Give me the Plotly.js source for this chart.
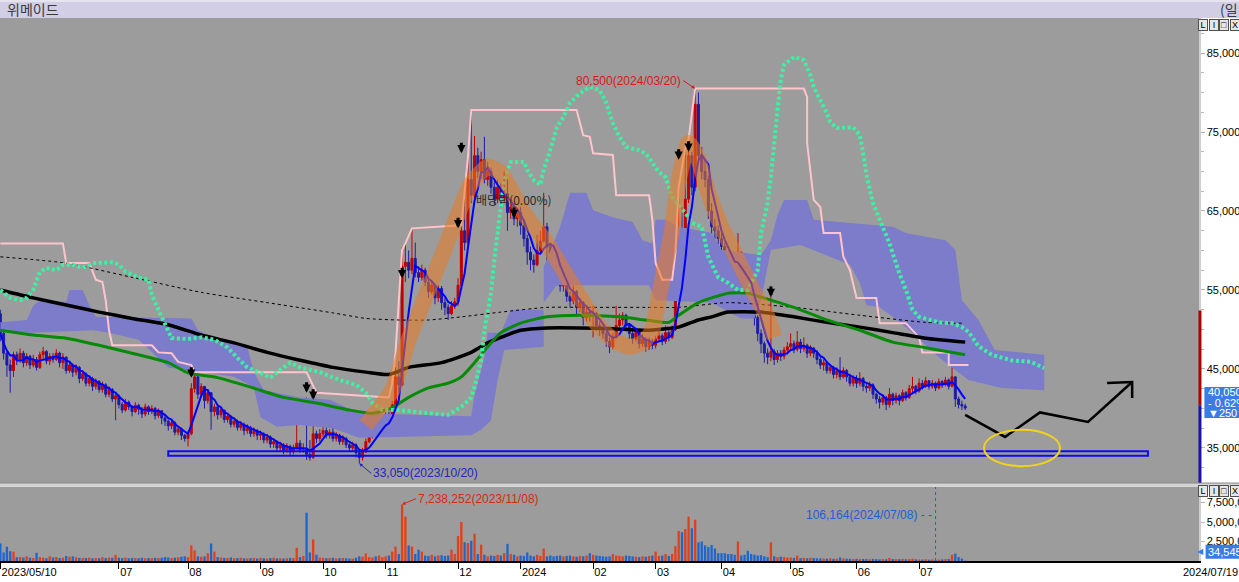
<!DOCTYPE html>
<html><head><meta charset="utf-8">
<script src="https://cdn.plot.ly/plotly-3.0.1.min.js"></script>
<style>html,body{margin:0;padding:0;background:#fff;overflow:hidden}#chart{width:1239px;height:582px}</style>
</head><body><div id="chart"></div>
<script>
// x = trading-day index (0 = 2023/05/10 ... 293 = 2024/07/19); prices in hundreds of KRW
const stockName = "위메이드";
const firstOpenH = 520;
const closeH = [
 495,470,455,448,468,462,470,458,466,455, 462,452,468,472,460,466,462,470,458,465,
 448,455,446,452,438,444,432,438,428,434, 424,430,418,424,412,416,
 405,398,408,402,396,404,399,393,402,396, 400,391,397,388,384,378,382,370,374,366,362,
 368,425,440,418,428,410,420,396,402,392, 398,386,390,380,384,376,380,372,376,368,372,366,
 368,360,364,355,358,350,354,347,352,345,350, 356,348,350,342,338,368,362,368,
 372,366,370,362,366,358,362,354,350,354, 344,338,345,358,366,372,368,378,382,
 392,386,405,440,430,580,585,575,590,572, 566,575,560,548,556,540,552,534,528,520,530,535,
 556,625,610,690,670,720,700,715,690,700, 680,665,680,665,672,648,655,640,648,
 632,615,598,588,582,600,612,630,605,595, 585,565,555,560,542,536,548,528,534,515,522,518,
 520,505,500,495,485,478,490,505,512,518, 505,495,488,498,482,488,478,485,480,
 488,492,485,496,490,500,565,610,600,665, 720,680,785,720,700,690,650,630,625,615,
 605,592,585,578,570,598,565,552,545,538, 515,495,482,470,465,472,462,470,466,474,478,
 482,475,484,476,480,470,476,470,462,455, 458,448,452,443,448,440,448,440,432,438,
 432,438,428,426,430,418,412,408,414,405, 418,410,416,410,420,414,425,428,422,
 432,428,435,428,432,426,434,430,436,428, 440,412,405,403,400.5];
const highH = [
 525,500,472,462,472,472,476,473,470,468, 468,465,472,478,474,470,470,475,472,470,
 466,460,457,456,454,448,446,442,440,438, 436,434,432,428,426,420,
 418,408,412,410,404,408,406,402,406,404, 404,402,400,398,392,386,386,384,378,376,368,
 372,432,446,445,432,428,424,420,406,404, 402,398,394,392,388,386,384,382,380,378,376,374,
 372,370,368,366,362,360,358,356,356,354,354, 395,360,356,414,360,404,372,374,
 380,376,374,376,370,368,366,364,358,358, 356,348,350,362,372,376,376,382,386,
 398,396,410,452,460,604,609,600,628,610, 580,582,578,565,562,558,556,555,540,532,536,540,
 565,632,680,718,778,745,730,725,744,712, 705,688,690,685,700,690,662,660,652,
 655,638,620,605,595,620,625,673,635,610, 600,590,570,566,562,548,556,550,540,536,528,526,
 530,522,510,504,498,490,496,530,520,522, 520,508,500,502,500,494,490,490,488,
 492,498,495,505,500,505,597,680,655,730, 741,725,805,800,731,715,695,660,640,632,
 622,610,598,592,585,622,598,570,560,550, 540,518,500,485,476,555,475,474,474,478,484,
 495,486,498,488,490,482,480,478,474,466, 462,460,456,454,452,465,452,450,444,442,
 442,446,440,432,434,432,420,416,418,416, 426,420,420,418,424,422,430,440,430,
 438,436,440,436,436,434,438,436,440,438, 452,440,415,410,406];
const lowH = [
 485,462,440,420,440,455,458,452,454,450, 452,448,450,462,456,455,458,460,452,450,
 444,445,440,442,432,435,428,428,422,424, 420,420,414,414,408,385,
 400,394,396,398,390,394,392,388,390,392, 393,386,388,380,378,372,374,366,366,360,358,
 352,366,420,412,415,400,406,373,390,386, 388,382,382,376,376,372,372,366,368,364,364,360,
 360,356,356,350,350,345,346,342,344,340,342, 348,344,344,335,334,336,356,358,
 364,362,362,358,358,354,354,350,345,346, 338,330.5,334,344,356,362,364,366,374,
 380,382,384,402,420,428,560,565,570,566, 560,562,555,540,545,532,535,525,518,512,518,526,
 530,552,600,605,660,665,692,690,685,682, 672,658,660,655,660,625,640,632,630,
 620,605,582,575,572,580,596,610,566,585, 578,556,548,548,535,528,532,518,522,505,510,510,
 490,498,492,488,478,470,475,488,500,505, 498,488,482,485,476,478,472,474,475,
 476,484,480,482,485,488,498,560,585,598, 660,670,675,715,690,680,640,620,615,608,
 598,585,575,570,562,566,558,545,538,530, 505,485,470,458,456,460,455,458,460,462,468,
 474,470,472,470,472,464,466,464,456,450, 448,444,444,438,438,436,438,434,428,428,
 426,428,422,420,422,412,406,400,404,398, 401,404,406,404,408,410,412,418,418,
 420,424,426,424,425,422,424,426,428,424, 427,402,400,398,398];
// volume in thousands of shares
const volumeK = [
 2240,1100,1840,1250,1200,480,520,450,600,430, 380,1050,500,420,350,600,450,520,380,420,
 650,550,600,480,400,390,380,420,350,380, 360,500,380,440,420,790,
 420,380,450,350,400,380,360,420,340,380, 360,400,380,420,500,450,380,420,480,550,600,
 500,2000,1360,600,550,600,1000,2240,1200,500, 450,400,380,450,350,380,420,350,330,360,400,320,
 400,350,300,380,420,330,360,320,350,400, 380,1700,500,650,6200,1100,2770,800,450,
 400,350,380,420,330,360,380,350,320,300, 420,600,550,970,500,450,600,700,500,
 600,700,1200,1840,900,7238.252,5700,2000,1850,900, 1450,1200,700,650,800,600,700,750,650,700,1450,900,
 3200,5000,2400,2300,2600,3500,900,2100,800,600, 700,650,800,700,1000,2200,900,800,600,
 700,650,1100,700,600,800,650,1600,600,700, 600,650,700,600,650,700,600,550,650,600,700,1000,
 800,700,650,600,550,600,900,700,650,600, 700,650,600,550,500,600,550,650,700,
 1200,650,700,900,650,900,1900,3860,3700,4100, 5700,4200,5300,2400,2500,2000,1800,2050,1600,1000,
 1000,1000,900,900,800,2500,700,800,1300,900, 800,700,750,600,500,2400,600,500,550,500,450,
 450,400,700,380,400,350,420,380,350,330, 320,300,350,280,300,450,320,300,280,260,
 280,250,260,240,230,260,250,220,240,230, 400,250,260,240,280,230,250,300,220,
 200,180,220,170,190,106.164,180,200,250,260, 800,950,500,300,34.545];

const monthTickIdx  = [0,36,57,79,98,117,139,158,180,199,219,240,260,279];
const monthTickText = ["2023/05/10","07","08","09","10","11","12","2024","02","03","04","05","06","07"];
const lastDateText = "2024/07/19";

// long moving averages
const greenMaI = [0,10,20,30,40,51,57,66,76,86,96,106,113,119,124,130,136,140,144,148,152,158,166,176,188,196,203,206,212,216,221,227,231,241,251,261,271,281,293];
const greenMaP = [499,493,489,480,470,458,445,439,427,414,407,398,394,401,414,426,432,440,458,478,496,508,516,518,516,512,509,518,534,540,546,546,541,528,512,499,484,477,468];
const blackMaI = [0,10,20,30,40,51,61,71,81,91,101,111,118,124,134,143,148,152,158,166,176,186,196,202,206,212,216,221,231,241,251,261,271,281,293];
const blackMaP = [550,540,531,522,514,506,493,483,471,461,452,446,443,452,458,471,483,490,499,502,502,501,499,501,503,512,516,522,522,516,509,503,496,489,484];
const dashMaI = [0,20,40,61,81,101,111,121,130,140,152,166,176,196,206,221,241,261,281,292];
const dashMaP = [592,584,566,547,534,521,514,512,512,516,522,528,528,528,528,534,528,518,509,508];
// highest-high (pink) line
const pinkI = [0,19,20,27,29,31,32,33,34,46,48,52,54,58,59,93,96,118,119,120,122,123,125,140,142,143,175,177,179,180,186,187,197,198,199,201,204,205,206,208,209,211,244,245,245,247,249,250,255,256,258,260,266,267,275,279,280,288,288,294];
const pinkP = [609,609,584,584,563,560,537,499,480,480,471,470,459,455,446,446,420,414,432,470,601,609,628,632,718,778,778,746,744,723,721,670,670,639,584,563,563,597,680,730,741,805,805,794,736,664,655,622,622,592,575,540,540,508,508,490,471,471,455,455];
// mint dotted line
const mintI = [0,3,6,8,10,12,14,17,19,22,25,28,34,36,38,42,45,46,48,51,52,57,61,65,69,72,75,79,82,85,88,91,97,103,108,111,113,116,121,130,136,140,143,144,146,147,149,150,151,152,153,155,159,160,162,164,165,167,169,171,173,176,179,182,184,186,188,190,194,196,198,200,202,204,209,210,213,215,218,221,224,227,230,231,233,234,236,237,238,241,244,246,247,249,251,252,254,259,261,262,263,265,267,270,273,275,277,279,285,289,292,294,297,301,307,313,317];
const mintP = [550,540,537,540,550,573,578,575,582,582,578,584,585,582,573,566,563,544,525,499,489,488,490,487,477,464,452,445,439,449,458,452,446,436,430,420,407,398,398,394,392,402,414,427,461,499,546,588,623,658,689,712,712,702,689,683,702,727,756,769,787,799,807,803,787,761,744,731,727,723,711,699,693,668,642,635,630,592,566,559,550,550,575,622,660,693,778,816,835,845,841,822,807,791,774,763,755,756,746,723,696,660,639,609,571,550,525,516,509,508,503,497,479,468,461,459,451];
// cloud (two spans)
const cloudTopI = [0,8,10,12,20,21,25,27,29,58,60,66,75,77,80,91,100,109,143,144,147,148,152,155,165,165,170,173,178,180,186,192,195,198,199,202,206,216,219,231,234,236,238,245,247,257,271,275,287,290,292,297,302,317];
const cloudTopP = [509,512,530,537,535,550,550,531,516,514,499,487,478,446,423,414,411,394,390,417,465,496,496,525,525,579,630,673,673,651,642,636,613,609,639,639,630,622,601,594,613,645,664,664,639,635,630,622,613,601,537,512,474,468];
const cloudBotI = [0,9,28,33,42,51,71,77,79,84,91,101,109,143,146,149,151,153,165,165,169,185,197,199,216,225,229,231,234,243,258,261,263,267,271,277,285,289,294,304,317];
const cloudBotP = [497,496,499,496,487,452,440,427,389,377,379,375,363,366,373,385,436,474,478,534,556,556,556,537,534,514,514,537,601,607,582,559,531,528,516,496,465,452,436,426,423];
// user drawings
const trendI = [111,119,124,134,143,148,152,159,166,171,176,181,186,191,195,198,200,202,204,206,209,212,215,219,224,229,233,235];
const trendP = [379,423,487,592,685,706,698,647,609,575,541,508,487,478,483,499,541,584,626,689,736,715,673,630,588,546,516,490];
const sketchI = [293,305.1,315.7,330.3,343.7];
const sketchP = [392,364,395,383,433.5];
const sketchHeadI = [336.1,343.7,343.7];
const sketchHeadP = [432.2,433.5,413.2];
const supportI = [51,348.5];
const supportP = [340,346];
const ellipseI = [298.7,321.8];
const ellipseP = [327,373];
const signalI = [58,93,95,122,139,140,156,206,209,234];
const signalP = [439,420,411,565,628,723,641,715,725,541];
const exDivIdx = 156, exDivText = "배당락(0.00%)";
const maxIdx = 211, maxText = "80,500(2024/03/20)";
const minIdx = 109, minText = "33,050(2023/10/20)";
const volMaxIdx = 122, volMaxText = "7,238,252(2023/11/08)";
const volMinIdx = 284, volMinText = "106,164(2024/07/08) - -";
const lastText = ["40,050","- 0.62%","▼250"];

// ---------- build ----------
const W = v => v * 100;
const N = closeH.length;
const idx = closeH.map((_, i) => i);
const openH = [firstOpenH].concat(closeH.slice(0, N - 1));
const ma5 = closeH.map((_, i) => { const s = closeH.slice(Math.max(0, i - 4), i + 1); return W(s.reduce((a, b) => a + b, 0) / s.length); });
const up = closeH.map((c, i) => c >= openH[i]);
const volColors = up.map(u => u ? '#e2401a' : '#1f66cc');

const F = 'Liberation Sans, Arial, sans-serif';
const KF = 'Noto Sans CJK KR, sans-serif';

const traces = [
  {type:'scatter', mode:'lines', x: cloudTopI.concat(cloudBotI.slice().reverse()), y: cloudTopP.concat(cloudBotP.slice().reverse()).map(W),
   fill:'toself', fillcolor:'#7c7cca', line:{width:0, color:'#7c7cca'}, hoverinfo:'skip'},
  {type:'scatter', mode:'lines', x: pinkI, y: pinkP.map(W), line:{color:'#ffc4cc', width:2}, hoverinfo:'skip'},
  {type:'scatter', mode:'lines', x: dashMaI, y: dashMaP.map(W), line:{color:'#000', width:1, dash:'3px,3px', shape:'spline', smoothing:0.6}, hoverinfo:'skip'},
  {type:'scatter', mode:'lines', x: blackMaI, y: blackMaP.map(W), line:{color:'#000', width:3.5, shape:'spline', smoothing:0.6}, hoverinfo:'skip'},
  {type:'scatter', mode:'lines', x: greenMaI, y: greenMaP.map(W), line:{color:'#078a07', width:3, shape:'spline', smoothing:0.6}, hoverinfo:'skip'},
  {type:'scatter', mode:'lines', x: mintI, y: mintP.map(W), line:{color:'#3ef0a2', width:4, dash:'3px,2.6px'}, hoverinfo:'skip'},
  {type:'candlestick', x: idx, open: openH.map(W), high: highH.map(W), low: lowH.map(W), close: closeH.map(W),
   increasing:{line:{color:'#c00000', width:1}, fillcolor:'#c00000'},
   decreasing:{line:{color:'#1c1ca6', width:1}, fillcolor:'#1c1ca6'},
   whiskerwidth:0, hoverinfo:'skip'},
  {type:'scatter', mode:'lines', x: idx, y: ma5, line:{color:'#0000ff', width:2}, hoverinfo:'skip'},
  {type:'scatter', mode:'lines', x: trendI, y: trendP.map(W), line:{color:'rgba(236,122,32,0.55)', width:16, shape:'spline', smoothing:0.5}, hoverinfo:'skip'},
  {type:'scatter', mode:'lines', x: sketchI, y: sketchP.map(W), line:{color:'#000', width:2.5}, hoverinfo:'skip'},
  {type:'scatter', mode:'lines', x: sketchHeadI, y: sketchHeadP.map(W), line:{color:'#000', width:2.5}, hoverinfo:'skip'},
  {type:'bar', x: idx, y: volumeK.map(v => v * 1000), marker:{color: volColors, line:{width:0}}, width:0.7, yaxis:'y2', hoverinfo:'skip'}
];

const shapes = [
  {type:'rect', xref:'paper', yref:'paper', x0:0, x1:1.034, y0:1, y1:1.0295, fillcolor:'#d2cee6', line:{width:0}, layer:'above'},
  {type:'rect', xref:'paper', yref:'paper', x0:0, x1:1.034, y0:1.0295, y1:1.034, fillcolor:'#e6e4ee', line:{width:0}, layer:'above'},
  {type:'rect', xref:'paper', yref:'paper', x0:0, x1:1.034, y0:0.1363, y1:0.1436, fillcolor:'#d4d4d4', line:{width:0}, layer:'above'},
  {type:'line', xref:'paper', yref:'paper', x0:0, x1:1.034, y0:0.1436, y1:0.1436, line:{color:'#8a8a8a', width:1}, layer:'above'},
  {type:'line', xref:'paper', yref:'y', x0:1.0008, x1:1.0008, y0:W(524), y1:W(404), line:{color:'#b00000', width:3}, layer:'above'},
  {type:'line', xref:'paper', yref:'y', x0:1.0008, x1:1.0008, y0:W(404), y1:30600, line:{color:'#1a10b0', width:3}, layer:'above'},
  {type:'rect', xref:'x', yref:'y', x0:supportI[0], x1:supportI[1], y0:W(supportP[0]), y1:W(supportP[1]), line:{color:'#0a0af5', width:2}, layer:'above'},
  {type:'circle', xref:'x', yref:'y', x0:ellipseI[0], x1:ellipseI[1], y0:W(ellipseP[0]), y1:W(ellipseP[1]), line:{color:'#f3d21c', width:2}, layer:'above'},
  {type:'line', xref:'x', yref:'y2', x0:volMinIdx, x1:volMinIdx, y0:0, y1:9490000, line:{color:'#2060d0', width:1, dash:'3px,3px'}, layer:'above'},
  {type:'rect', xref:'paper', yref:'y', ysizemode:'pixel', yanchor:W(closeH[N-1]), x0:1.0045, x1:1.04, y0:-10, y1:21, fillcolor:'#3b7ce4', line:{width:0}, layer:'above'},
  {type:'rect', xref:'paper', yref:'y2', ysizemode:'pixel', yanchor:volumeK[N-1]*1000, x0:1.0055, x1:1.04, y0:2, y1:16, fillcolor:'#3b7ce4', line:{width:0}, layer:'above'}
];

const ann = [];
ann.push({xref:'paper', yref:'paper', x:0, y:1.0166, xanchor:'left', yanchor:'middle', xshift:5, text:stockName, showarrow:false, font:{family:KF, size:14, color:'#3a3a3a'}});
ann.push({xref:'paper', yref:'paper', x:1.034, y:1.0166, xanchor:'right', yanchor:'middle', text:'(일', showarrow:false, font:{family:KF, size:14, color:'#3a3a3a'}});
ann.push({xref:'paper', yref:'paper', x:1.034, y:-0.0203, xanchor:'right', yanchor:'middle', text:lastDateText, showarrow:false, font:{family:F, size:11, color:'#000'}});
signalI.forEach((s, k) => ann.push({x:s, y:W(signalP[k]), xref:'x', yref:'y', text:'', showarrow:true, arrowhead:2, arrowsize:0.55, arrowwidth:3, arrowcolor:'#000', ax:0, ay:-12}));
ann.push({x:exDivIdx, y:W(highH[exDivIdx]) + 400, xref:'x', yref:'y', text:exDivText, showarrow:false, font:{family:KF, size:12, color:'#2a2a2a'}});
ann.push({x:maxIdx, y:W(highH[maxIdx]), xref:'x', yref:'y', text:maxText, showarrow:true, arrowhead:2, arrowsize:0.7, arrowwidth:1, arrowcolor:'#d81818', ax:-12, ay:-8, xanchor:'right', font:{family:F, size:12, color:'#d81818'}});
ann.push({x:minIdx, y:W(lowH[minIdx]), xref:'x', yref:'y', text:minText, showarrow:true, arrowhead:2, arrowsize:0.7, arrowwidth:1, arrowcolor:'#2424c0', ax:12, ay:10, xanchor:'left', font:{family:F, size:12, color:'#2424c0'}});
ann.push({x:volMaxIdx, y:volumeK[volMaxIdx]*1000, xref:'x', yref:'y2', text:volMaxText, showarrow:true, arrowhead:2, arrowsize:0.7, arrowwidth:1, arrowcolor:'#d82a10', ax:14, ay:-6, xanchor:'left', font:{family:F, size:12, color:'#d82a10'}});
ann.push({x:volMinIdx, y:5900000, xref:'x', yref:'y2', text:volMinText, showarrow:false, xanchor:'right', xshift:-2, font:{family:F, size:12, color:'#2060d0'}});
const shifts = [16, 5, -5];
lastText.forEach((t, k) => ann.push({xref:'paper', yref:'y', x:1.006, y:W(closeH[N-1]), yshift:shifts[k], xanchor:'left', yanchor:'middle', text:t, showarrow:false, font:{family:F, size:11, color:'#fff'}}));
ann.push({xref:'paper', yref:'y2', x:1.0062, y:volumeK[N-1]*1000, yshift:9, xanchor:'left', yanchor:'middle', text:'34,545', showarrow:false, font:{family:F, size:11, color:'#fff'}});
ann.push({xref:'paper', yref:'y2', x:1.0058, y:volumeK[N-1]*1000, yshift:9, xanchor:'right', yanchor:'middle', text:'◀', showarrow:false, font:{family:'DejaVu Sans', size:8, color:'#3b7ce4'}});
['L','I','□','X'].forEach((t, k) => {
  [0.9875, 0.1293].forEach(yy => ann.push({xref:'paper', yref:'paper', x:0.9992 + k*0.0088, y:yy, xanchor:'left', yanchor:'middle', text:t, showarrow:false,
    font:{family:F, size:9, color:'#000'}, bgcolor:'#e6e6e6', bordercolor:'#505050', borderwidth:1, borderpad:0, width:8, height:10}));
});

const layout = {
  width:1239, height:582, margin:{l:0, r:40, t:18, b:21, pad:0},
  paper_bgcolor:'#ffffff', plot_bgcolor:'#9c9c9c', showlegend:false, hovermode:false,
  boxgap:0.4, boxgroupgap:0,
  xaxis:{domain:[0,1], range:[-0.1,364], anchor:'y2', tickvals:monthTickIdx, ticktext:monthTickText,
    ticks:'outside', ticklen:6, tickcolor:'#000', tickwidth:1, ticklabelposition:'outside right',
    showline:true, linecolor:'#000', linewidth:1.5, showgrid:false, zeroline:false,
    tickfont:{family:F, size:11, color:'#000'}, rangeslider:{visible:false}, fixedrange:true},
  yaxis:{domain:[0.1436,1], range:[30562,89431], side:'right', anchor:'x', tick0:35000, dtick:10000, tickformat:',d',
    ticks:'outside', ticklen:4, tickcolor:'#b8b8b8', showline:true, linecolor:'#cfcfcf', linewidth:1.5,
    showgrid:false, zeroline:false, tickfont:{family:F, size:11, color:'#000'},
    minor:{tick0:35000, dtick:2500, ticks:'outside', ticklen:3, tickcolor:'#b8b8b8'}, fixedrange:true},
  yaxis2:{domain:[0,0.1363], range:[0,9490000], side:'right', anchor:'x', tickvals:[2500000,5000000,7500000],
    ticktext:['2,500,000','5,000,000','7,500,000'], ticks:'outside', ticklen:4, tickcolor:'#b8b8b8',
    showline:true, linecolor:'#cfcfcf', linewidth:1.5, showgrid:false, zeroline:false,
    tickfont:{family:F, size:11, color:'#000'}, fixedrange:true},
  shapes:shapes, annotations:ann
};
Plotly.newPlot('chart', traces, layout, {staticPlot:true, displayModeBar:false});
</script>
</body></html>
